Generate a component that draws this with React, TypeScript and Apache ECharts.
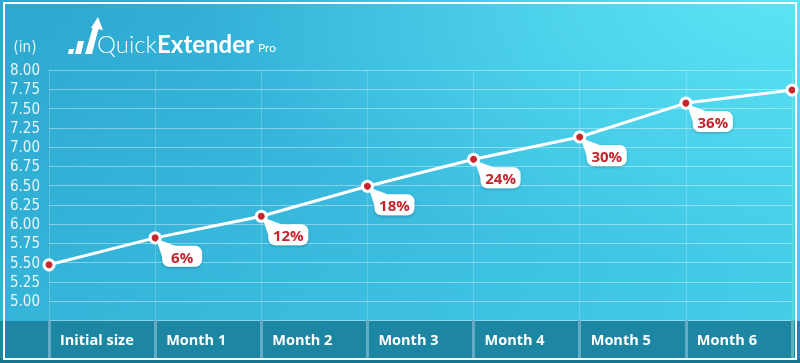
import React, { useEffect, useRef } from "react";
import * as echarts from "echarts";

const categories = ["Initial size", "Month 1", "Month 2", "Month 3", "Month 4", "Month 5", "Month 6", ""];
const sizes = [5.47, 5.82, 6.1, 6.49, 6.84, 7.13, 7.57, 7.74];
const growthLabels = ["", "6%", "12%", "18%", "24%", "30%", "36%", ""];
const yMin = 4.75;
const yMax = 8;
const yStep = 0.25;

const NARROW = '"Liberation Sans Narrow", "DejaVu Sans Condensed", "Roboto Condensed", sans-serif';

export default function App() {
  const ref = useRef<HTMLDivElement>(null);
  useEffect(() => {
    if (!ref.current) return;
    const chart = echarts.init(ref.current, undefined, { renderer: "svg" });
    const calloutData = sizes
      .map((v, i) => [i, v, growthLabels[i]])
      .filter((d) => d[2] !== "");
    const option: any = {
      animation: false,
      backgroundColor: "transparent",
      grid: { left: 49, right: 8, top: 70, bottom: 42.75, containLabel: false },
      xAxis: {
        type: "category",
        data: categories,
        boundaryGap: false,
        axisLine: { show: false },
        axisTick: {
          show: true,
          inside: false,
          length: 38,
          alignWithLabel: false,
          lineStyle: { color: "#62adc4", width: 3 },
        },
        axisLabel: {
          show: true,
          interval: 0,
          align: "left",
          margin: 12,
          padding: [0, 0, 0, 11],
          color: "#ffffff",
          fontFamily: '"Open Sans", Lato, sans-serif',
          fontWeight: 700,
          fontSize: 14.5,
        },
        splitLine: { show: true, lineStyle: { color: "rgba(255,255,255,0.2)", width: 1 } },
      },
      yAxis: {
        type: "value",
        min: yMin,
        max: yMax,
        interval: yStep,
        axisLine: { show: false },
        axisTick: { show: false },
        axisLabel: {
          margin: 9,
          color: "rgba(255,255,255,0.88)",
          fontFamily: NARROW,
          fontSize: 15,
          formatter: (v: number) => (v < 5 ? "" : v.toFixed(2)),
        },
        splitLine: { show: true, lineStyle: { color: "rgba(255,255,255,0.38)", width: 1 } },
      },
      graphic: [
        {
          type: "rect",
          z: -10,
          silent: true,
          shape: { x: 0, y: 0, width: 800, height: 363 },
          style: {
            fill: new echarts.graphic.LinearGradient(0, 0, 1, 0, [
              { offset: 0, color: "#2ca7cf" },
              { offset: 0.5, color: "#37b6dc" },
              { offset: 1, color: "#44cbe8" },
            ]),
          },
        },
        {
          type: "rect",
          z: -9,
          silent: true,
          shape: { x: 0, y: 0, width: 800, height: 363 },
          style: {
            fill: new echarts.graphic.RadialGradient(1, 0, 0.75, [
              { offset: 0, color: "rgba(96,232,246,0.85)" },
              { offset: 1, color: "rgba(96,232,246,0)" },
            ]),
          },
        },
        {
          type: "rect",
          z: -9,
          silent: true,
          shape: { x: 0, y: 0, width: 800, height: 363 },
          style: {
            fill: new echarts.graphic.LinearGradient(0, 0, 0, 1, [
              { offset: 0, color: "rgba(70,210,235,0)" },
              { offset: 1, color: "rgba(70,210,235,0.35)" },
            ]),
          },
        },
        {
          type: "rect",
          z: -8,
          silent: true,
          shape: { x: 0, y: 321, width: 800, height: 42 },
          style: { fill: "#1d86a2" },
        },
        {
          type: "rect",
          z: -8,
          silent: true,
          shape: { x: 0, y: 359, width: 800, height: 4 },
          style: { fill: "#17768f" },
        },
        {
          type: "rect",
          z: 50,
          silent: true,
          shape: { x: 4, y: 3, width: 792, height: 356 },
          style: { fill: "none", stroke: "#ffffff", lineWidth: 2 },
        },
        {
          type: "text",
          z: 50,
          silent: true,
          style: {
            text: "(in)",
            x: 25,
            y: 47,
            align: "center",
            verticalAlign: "middle",
            textAlign: "center",
            textVerticalAlign: "middle",
            fill: "rgba(255,255,255,0.88)",
            font: `15px ${NARROW}`,
          },
        },
        // logo icon
        {
          type: "group",
          z: 50,
          silent: true,
          children: [
            { type: "polygon", shape: { points: [[69, 49], [74, 49], [73, 54], [68, 54]] }, style: { fill: "#ffffff" } },
            { type: "polygon", shape: { points: [[78, 41], [84, 41], [81, 54], [75, 54]] }, style: { fill: "#ffffff" } },
            { type: "polygon", shape: { points: [[93, 27], [99, 27], [92, 54], [85, 54]] }, style: { fill: "#ffffff" } },
            { type: "polygon", shape: { points: [[91, 28], [98, 17], [103, 30]] }, style: { fill: "#ffffff" } },
          ],
        },
        {
          type: "text",
          z: 50,
          silent: true,
          style: {
            text: "{a|Quick}{b|Extender}",
            x: 97,
            y: 55,
            verticalAlign: "bottom",
            textVerticalAlign: "bottom",
            fill: "#ffffff",
            rich: {
              a: { fontFamily: "Lato, sans-serif", fontWeight: 300, fontSize: 24, color: "#ffffff" },
              b: { fontFamily: "Lato, sans-serif", fontWeight: 700, fontSize: 24, color: "#ffffff" },
            },
          },
        },
        {
          type: "text",
          z: 50,
          silent: true,
          style: {
            text: "Pro",
            x: 258,
            y: 53,
            verticalAlign: "bottom",
            textVerticalAlign: "bottom",
            fill: "#ffffff",
            font: "12px Lato, sans-serif",
          },
        },
      ],
      series: [
        {
          type: "custom",
          z: 2,
          silent: true,
          data: calloutData,
          renderItem: (params: any, api: any) => {
            const i = api.value(0);
            const v = api.value(1);
            const label = calloutData[params.dataIndex][2] as string;
            const p = api.coord([i, v]);
            const x = p[0];
            const y = p[1];
            return {
              type: "group",
              children: [
                {
                  type: "rect",
                  shape: { x: x + 7, y: y + 8, width: 40, height: 21, r: 7 },
                  style: { fill: "#ffffff", shadowBlur: 3, shadowColor: "rgba(0,0,0,0.25)", shadowOffsetY: 1 },
                },
                {
                  type: "polygon",
                  shape: { points: [[x + 1, y + 1], [x + 7, y + 19], [x + 20, y + 8]] },
                  style: { fill: "#ffffff" },
                },
                {
                  type: "text",
                  style: {
                    text: label,
                    x: x + 27,
                    y: y + 19,
                    align: "center",
                    verticalAlign: "middle",
                    textAlign: "center",
                    textVerticalAlign: "middle",
                    fill: "#c0262c",
                    font: 'bold 15px "Open Sans", Lato, sans-serif',
                  },
                },
              ],
            };
          },
        },
        {
          type: "line",
          z: 3,
          data: sizes,
          symbol: "circle",
          symbolSize: 10,
          lineStyle: { color: "#ffffff", width: 3 },
          itemStyle: { color: "#c8282d", borderColor: "#ffffff", borderWidth: 3 },
        },
      ],
    };
    chart.setOption(option);
    return () => chart.dispose();
  }, []);
  return (
    <div
      ref={ref}
      style={{ position: "fixed", left: 0, top: 0, width: 800, height: 363 }}
    />
  );
}
